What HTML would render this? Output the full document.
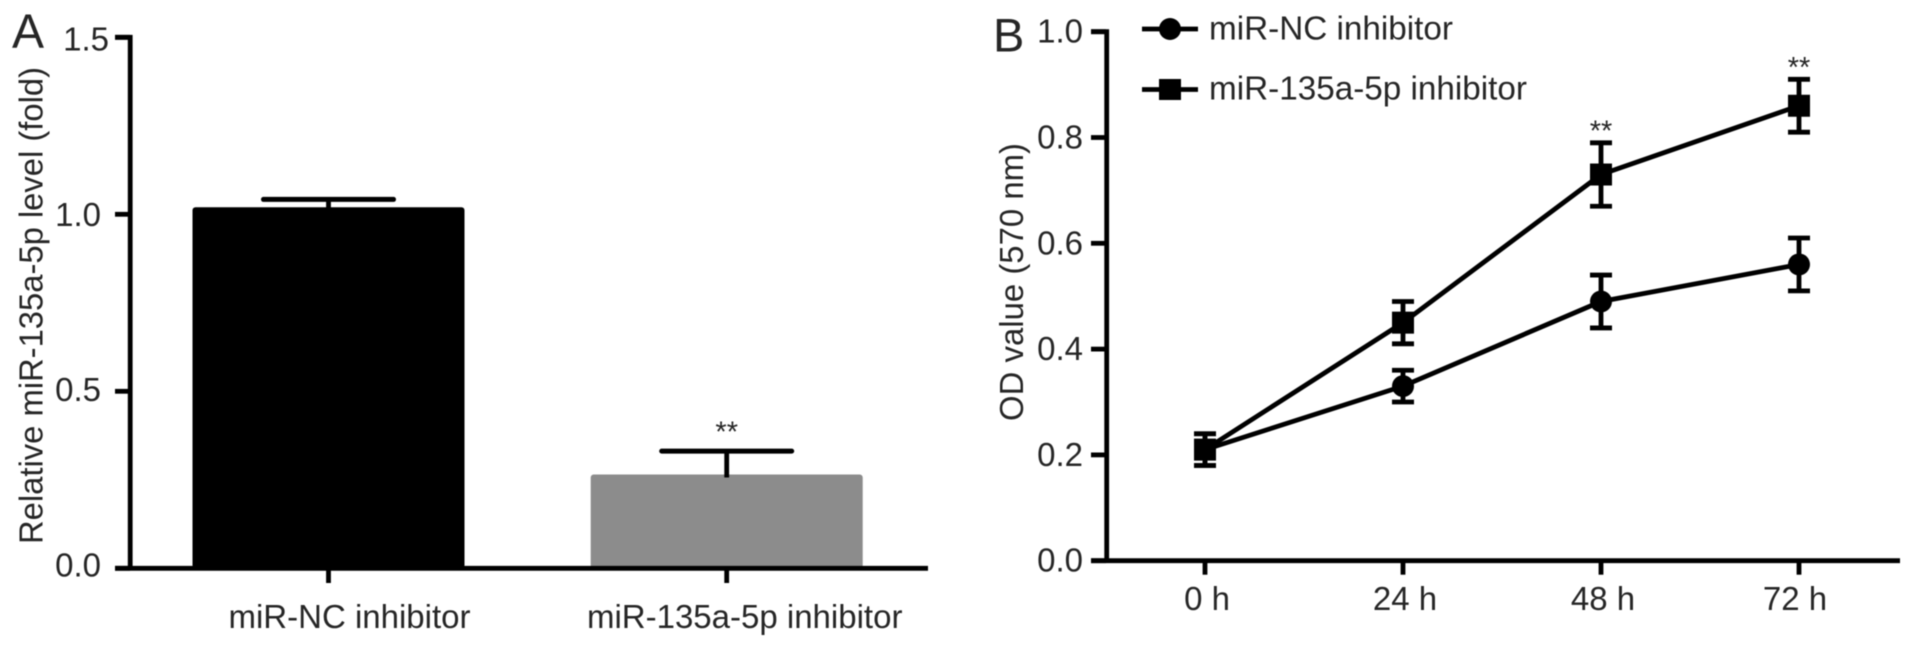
<!DOCTYPE html>
<html lang="en">
<head>
<meta charset="utf-8">
<title>miR-135a-5p inhibitor figure</title>
<style>
html,body{margin:0;padding:0;background:#fff;width:1913px;height:648px;overflow:hidden}
svg{display:block;filter:blur(0.5px)}
text{font-family:"Liberation Sans",Arial,sans-serif;fill:#262626}
</style>
</head>
<body>
<svg id="fig" xmlns="http://www.w3.org/2000/svg" width="1913" height="648" viewBox="0 0 1913 648">
  <rect width="1913" height="648" fill="#fff"/>
  <text x="12" y="47.5" font-size="48">A</text>
  <text x="993" y="51.5" font-size="47">B</text>
  <text transform="translate(42.5,544) rotate(-90)" font-size="33" textLength="477" lengthAdjust="spacingAndGlyphs">Relative miR-135a-5p level (fold)</text>
  <text transform="translate(1023,421) rotate(-90)" font-size="33" textLength="278" lengthAdjust="spacingAndGlyphs">OD value (570 nm)</text>
  <g id="panelA"></g>
  <g id="panelB"></g>
  <g stroke="#000">
    <g>
      <line x1="1142" y1="29" x2="1198" y2="29" stroke-width="4.8"/>
      <circle cx="1170" cy="29" r="11" fill="#000" stroke="none"/>
      <text x="1209" y="39.5" font-size="33" stroke="none" textLength="244" lengthAdjust="spacingAndGlyphs">miR-NC inhibitor</text>
    </g>
    <g>
      <line x1="1142" y1="89.5" x2="1198" y2="89.5" stroke-width="4.8"/>
      <rect x="1159" y="79" width="22" height="21" fill="#000" stroke="none"/>
      <text x="1209" y="99.5" font-size="33" stroke="none" textLength="318" lengthAdjust="spacingAndGlyphs">miR-135a-5p inhibitor</text>
    </g>
  </g>
</svg>
<script>
// Panel A data
const barCategories = ["miR-NC inhibitor", "miR-135a-5p inhibitor"];
const barValues = [1.02, 0.265];
const barErrors = [0.022, 0.066];
const barColors = ["#000000", "#8c8c8c"];
const barSignificance = ["", "**"];
const barYTicks = [0, 0.5, 1.0, 1.5];
const barYTickLabels = ["0.0", "0.5", "1.0", "1.5"];

// Panel B data
const timeLabels = ["0 h", "24 h", "48 h", "72 h"];
const ncValues = [0.21, 0.33, 0.49, 0.56];
const ncErrors = [0.03, 0.03, 0.05, 0.05];
const mirValues = [0.21, 0.45, 0.73, 0.86];
const mirErrors = [0.03, 0.04, 0.06, 0.05];
const mirSignificance = ["", "", "**", "**"];
const lineYTicks = [0, 0.2, 0.4, 0.6, 0.8, 1.0];
const lineYTickLabels = ["0.0", "0.2", "0.4", "0.6", "0.8", "1.0"];

const SVGNS = "http://www.w3.org/2000/svg";
function mk(parent, tag, attrs, txt) {
  const n = document.createElementNS(SVGNS, tag);
  for (const k in attrs) n.setAttribute(k, attrs[k]);
  if (txt !== undefined) n.textContent = txt;
  parent.appendChild(n);
  return n;
}
const A = document.getElementById("panelA");
const B = document.getElementById("panelB");

// Panel A scales
const yA = v => 568.3 - v * 354;
const xA = i => 328.5 + i * 398.2;
const yALabel = v => 565 - v * (526 / 1.5);

// Bars
barValues.forEach((v, i) => {
  const bar = mk(A, "rect", {x: xA(i) - 136, y: yA(v), width: 272, height: yA(0) - yA(v), rx: 3, fill: barColors[i]});
  
  
  const top = yA(v + barErrors[i]);
  const stem = mk(A, "line", {x1: xA(i), x2: xA(i), y1: top, y2: yA(v) + 3, stroke: "#000", "stroke-width": 4.8});
  
  
  const cap = mk(A, "line", {x1: xA(i) - 65, x2: xA(i) + 65, y1: top, y2: top, stroke: "#000", "stroke-width": 5, "stroke-linecap": "round"});
  
  
  if (barSignificance[i]) {
    const star = mk(A, "text", {x: xA(i), y: top - 9.5, "font-size": 29, "text-anchor": "middle"}, barSignificance[i]);
    
    
  }
  const tick = mk(A, "line", {x1: xA(i), x2: xA(i), y1: yA(0), y2: 583, stroke: "#000", "stroke-width": 4.8});
  
  
  const lab = mk(A, "text", {x: xA(i) + (i === 0 ? 21 : 18), y: 628, "font-size": 33, "text-anchor": "middle"}, barCategories[i]);
  
  
});

// Panel A axes
const axAY = mk(A, "path", {d: `M115 ${yA(1.5)}H130.2V${yA(0)}`, fill: "none", stroke: "#000", "stroke-width": 4.8});


const axAX = mk(A, "line", {x1: 115, x2: 928, y1: yA(0), y2: yA(0), stroke: "#000", "stroke-width": 4.8});


barYTicks.forEach((v, i) => {
  const t = mk(A, "line", {x1: 115, x2: 130, y1: yA(v), y2: yA(v), stroke: "#000", "stroke-width": 4.8});
  
  
  const isTop = i === barYTicks.length - 1;
  const l = mk(A, "text", {x: isTop ? 109 : 101, y: yALabel(v) + 11.5, "font-size": 33, "text-anchor": "end"}, barYTickLabels[i]);
  
  
});

// Panel B scales
const yB = v => 560.7 - v * 529;
const xB = i => 1205 + i * 198;

// Panel B axes
const axBY = mk(B, "path", {d: `M1091 ${yB(1)}H1106.7V${yB(0)}`, fill: "none", stroke: "#000", "stroke-width": 4.8});


const axBX = mk(B, "line", {x1: 1091, x2: 1900, y1: yB(0), y2: yB(0), stroke: "#000", "stroke-width": 4.8});


lineYTicks.forEach((v, i) => {
  const t = mk(B, "line", {x1: 1091, x2: 1106, y1: yB(v), y2: yB(v), stroke: "#000", "stroke-width": 4.8});
  
  
  const l = mk(B, "text", {x: 1083, y: yB(v) + 11, "font-size": 33, "text-anchor": "end"}, lineYTickLabels[i]);
  
  
});
timeLabels.forEach((s, i) => {
  const t = mk(B, "line", {x1: xB(i), x2: xB(i), y1: yB(0), y2: 574.7, stroke: "#000", "stroke-width": 4.8});
  
  
  const l = mk(B, "text", {x: xB(i) + (i === timeLabels.length - 1 ? -4 : 2), y: 610, "font-size": 33, "text-anchor": "middle"}, s);
  
  
});

// Series
function drawSeries(name, values, errors, marker) {
  const pts = values.map((v, i) => xB(i) + "," + yB(v)).join(" ");
  const line = mk(B, "polyline", {points: pts, fill: "none", stroke: "#000", "stroke-width": 4.8});
  
  
  values.forEach((v, i) => {
    const x = xB(i), hi = yB(v + errors[i]), lo = yB(v - errors[i]);
    const err = mk(B, "path", {d: `M${x} ${hi}V${lo}M${x - 11} ${hi}H${x + 11}M${x - 11} ${lo}H${x + 11}`, fill: "none", stroke: "#000", "stroke-width": 4.8});
    
    
    let m;
    if (marker === "circle") {
      m = mk(B, "circle", {cx: x, cy: yB(v), r: 11, fill: "#000"});
    } else {
      m = mk(B, "rect", {x: x - 11, y: yB(v) - 11, width: 22, height: 22, fill: "#000"});
    }
    
    
  });
}
drawSeries("mir-nc", ncValues, ncErrors, "circle");
drawSeries("mir-135a", mirValues, mirErrors, "square");

mirSignificance.forEach((s, i) => {
  if (!s) return;
  const st = mk(B, "text", {x: xB(i), y: yB(mirValues[i] + mirErrors[i]) - 2.5, "font-size": 29, "text-anchor": "middle"}, s);
  
  
});
</script>
</body>
</html>
